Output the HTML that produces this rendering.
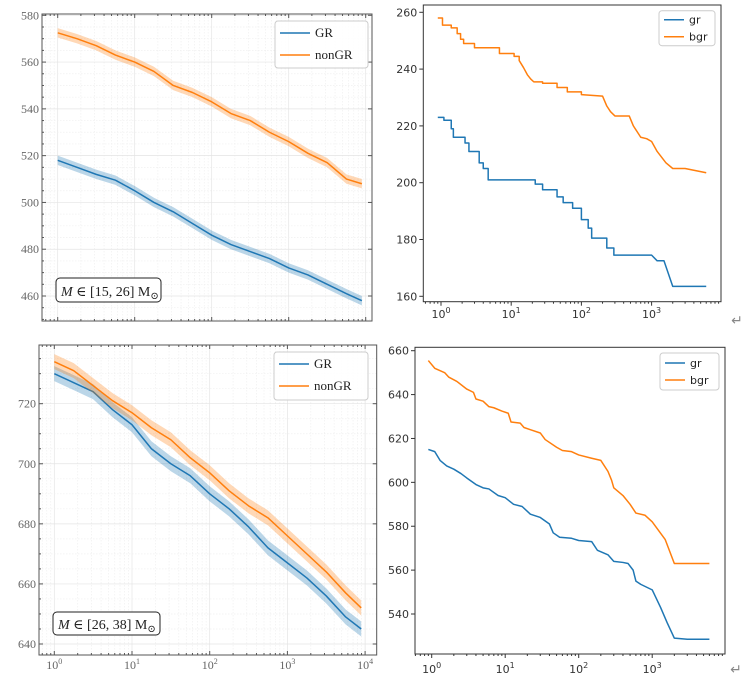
<!DOCTYPE html>
<html><head><meta charset="utf-8">
<style>
html,body{margin:0;padding:0;background:#fff;}
svg{display:block;}
.serif{font-family:"Liberation Serif","DejaVu Serif",serif;}
.sans{font-family:"DejaVu Sans","Liberation Sans",sans-serif;}
</style></head>
<body>
<svg id="fig" width="743" height="684" viewBox="0 0 743 684" xmlns="http://www.w3.org/2000/svg"></svg>
<script>
// ---- Data ----
const aLogX = [0,0.25,0.5,0.75,1,1.25,1.5,1.75,2,2.25,2.5,2.75,3,3.25,3.5,3.75,3.95];
const aGR = [518,515,512,509.5,505,500,496,491,486,482,479,476,472,469,465,461,458];
const aNonGR = [572.5,570,567,563,560,556,550,547,543,538,535,530,526,521,517,510,508];
const aBand = 2;
const aYTicks = [460,480,500,520,540,560,580];
const cLogX = [0,0.25,0.5,0.75,1,1.25,1.5,1.75,2,2.25,2.5,2.75,3,3.25,3.5,3.75,3.95];
const cGR = [730,727,724,718,713,705,700,696,690,685,679,672,667,662,656,649,645];
const cNonGR = [734,731,726,721,717,712,708,702,697,691,686,682,676,670,664,657,652];
const cBand = 2.5;
const cYTicks = [640,660,680,700,720];
const bGrX = [0.9,1.1,1.1,1.4,1.4,1.5,1.5,2.2,2.2,2.5,2.5,3.5,3.5,4,4,4.7,4.7,22,22,28,28,45,45,55,55,75,75,100,100,125,125,140,140,230,230,290,290,1000,1200,1500,2000,6000];
const bGrY = [223,223,222,222,219,219,216,216,214,214,211,211,207,207,205,205,201,201,199.5,199.5,197.5,197.5,195,195,193,193,191,191,187,187,184,184,180.5,180.5,177,177,174.5,174.5,172.5,172.5,163.5,163.5];
const bBgrX = [0.9,1.05,1.05,1.4,1.4,1.7,1.7,1.9,1.9,2.1,2.1,3,3,6.8,6.8,11,11,13,13,15,17,19,21,28,28,45,45,63,63,100,100,200,230,260,300,480,550,700,850,1000,1200,1600,2000,3000,6000];
const bBgrY = [258,258,255.5,255.5,254.5,254.5,252.5,252.5,250.5,250.5,249,249,247.5,247.5,245.5,245.5,244.5,244.5,243,240.5,238,236.5,235.5,235.5,235,235,233.5,233.5,232,232,231,230.5,227,225,223.5,223.5,220,216,215.5,214.5,211,207,205,205,203.5];
const bYTicks = [160,180,200,220,240,260];
const dGrX = [0.9,1.1,1.3,1.6,2,2.5,3,4,5,6,8,10,13,17,22,30,40,45,55,80,100,150,180,250,300,400,470,550,600,700,1000,1300,1600,2000,3000,6000];
const dGrY = [615,614,610,607.5,606,604,602,599,597.5,597,594,593,590,589,585.5,584,581,577,575,574.5,573.5,573,569,567,564,563.5,563,560,555,553.5,551,543,536,529,528.5,528.5];
const dBgrX = [0.9,1.1,1.5,1.7,2.2,3,3.7,4,5,6,7,9,11,12,16,18,22,30,35,50,60,80,100,150,200,250,280,300,400,500,600,800,1000,1500,2000,6000];
const dBgrY = [655.5,652,650,648,646,642.5,641,638,637,634.5,634,632.5,631.5,627.5,627,625,624,622.5,619.5,616,614.5,614,612.5,611,610,605,601,597.5,594,590,586,585,582,574,563,563];
const dYTicks = [540,560,580,600,620,640,660];
const xDecades = [0,1,2,3,4];
const xTickLabelsExp = ["0","1","2","3","4"];

const NS="http://www.w3.org/2000/svg";
const fig=document.getElementById('fig');
const BLUE="#1f77b4", ORANGE="#ff7f0e";
function mk(tag,attrs,parent){const e=document.createElementNS(NS,tag);for(const k in attrs)e.setAttribute(k,attrs[k]);(parent||fig).appendChild(e);return e;}

function makeAxes(p){
  const fx=l=>p.xpx0+l*p.dec;
  const fy=v=>p.ypxA+(v-p.yvA)*(p.ypxB-p.ypxA)/(p.yvB-p.yvA);
  return {fx,fy};
}

function drawPanel(p){
  const g=mk('g',{});
  
  
  const {fx,fy}=makeAxes(p);
  const b=p.box;
  const cpId='clip-'+p.name;
  const cp=mk('clipPath',{id:cpId},g);
  mk('rect',{x:b.l,y:b.t,width:b.r-b.l,height:b.b-b.t},cp);
  const inner=mk('g',{'clip-path':'url(#'+cpId+')'},g);
  if(p.latex){
    for(let d=-1;d<=4;d++){
      for(let m=1;m<10;m++){
        const X=fx(d+Math.log10(m));
        if(X<b.l||X>b.r)continue;
        const l=mk('line',{x1:X,x2:X,y1:b.t,y2:b.b,stroke:m==1?'#e4e4e4':'#f0f0f0','stroke-width':0.7,'stroke-dasharray':m==1?'':'1.5,1.5'},inner);
        
        
      }
    }
    for(let v=p.yTicks[0]-20;v<=p.yTicks[p.yTicks.length-1]+20;v+=5){
      const Y=fy(v);if(Y<b.t||Y>b.b)continue;
      const l=mk('line',{x1:b.l,x2:b.r,y1:Y,y2:Y,stroke:v%20==0?'#e4e4e4':'#f0f0f0','stroke-width':0.7,'stroke-dasharray':v%20==0?'':'1.5,1.5'},inner);
      
      
    }
  }
  p.series.forEach(s=>{
    if(s.band){
      let d='';
      s.xs.forEach((x,i)=>{d+=(i?'L':'M')+fx(s.log?x:Math.log10(x))+','+fy(s.ys[i]+s.band);});
      for(let i=s.xs.length-1;i>=0;i--){const x=s.xs[i];d+='L'+fx(s.log?x:Math.log10(x))+','+fy(s.ys[i]-s.band);}
      const band=mk('path',{d:d+'Z',fill:s.color,'fill-opacity':0.3,stroke:'none'},inner);
      
      
    }
    const pts=s.xs.map((x,i)=>fx(s.log?x:Math.log10(x))+','+fy(s.ys[i])).join(' ');
    const ln=mk('polyline',{points:pts,fill:'none',stroke:s.color,'stroke-width':1.5,'stroke-linejoin':'round'},inner);
    
    
  });
  const fr=mk('rect',{x:b.l,y:b.t,width:b.r-b.l,height:b.b-b.t,fill:'none',stroke:p.latex?'#555':'#333','stroke-width':1},g);
  
  
  const font=p.latex?'serif':'sans';
  const tcol=p.latex?'#666':'#333';
  p.yTicks.forEach(v=>{
    const Y=fy(v);
    if(p.latex){
      mk('line',{x1:b.l,x2:b.l+4,y1:Y,y2:Y,stroke:'#555'},g);
      mk('line',{x1:b.r,x2:b.r-4,y1:Y,y2:Y,stroke:'#555'},g);
    } else mk('line',{x1:b.l,x2:b.l-4,y1:Y,y2:Y,stroke:'#333'},g);
    const t=mk('text',{x:b.l-(p.latex?3:6),y:Y+4,'text-anchor':'end','font-size':p.latex?12:11,fill:tcol,class:font},g);
    t.textContent=v;
    
    
  });
  if(p.latex){
    for(let v=p.yTicks[0]-20;v<=p.yTicks[p.yTicks.length-1]+20;v+=5){
      if(v%20==0)continue;const Y=fy(v);if(Y<b.t||Y>b.b)continue;
      mk('line',{x1:b.l,x2:b.l+2,y1:Y,y2:Y,stroke:'#555'},g);
    }
  }
  for(let d=-1;d<=4;d++){
    for(let m=1;m<10;m++){
      const X=fx(d+Math.log10(m));
      if(X<b.l||X>b.r)continue;
      const len=m==1?4:2;
      if(p.latex){
        mk('line',{x1:X,x2:X,y1:b.b,y2:b.b-len,stroke:'#555'},g);
        mk('line',{x1:X,x2:X,y1:b.t,y2:b.t+len,stroke:'#555'},g);
      } else mk('line',{x1:X,x2:X,y1:b.b,y2:b.b+len,stroke:'#333'},g);
    }
  }
  if(p.xLabels){
    xDecades.forEach((d,i)=>{
      const X=fx(d);if(X<b.l-2||X>b.r-1)return;
      const t=mk('text',{x:X,y:p.xLabelY,'text-anchor':'middle','font-size':p.latex?12:11,fill:tcol,class:font},g);
      t.textContent='10';
      const ts=mk('tspan',{dy:-5,'font-size':8},t);
      ts.textContent=xTickLabelsExp[i];
      
      
    });
  }
  const L=p.legend;
  const lg=mk('g',{},g);
  
  
  mk('rect',{x:L.l,y:L.t,width:L.w,height:L.h,rx:3,fill:'#fff','fill-opacity':0.85,stroke:'#ccc'},lg);
  L.items.forEach((it,i)=>{
    const Y=L.t+L.y0+i*L.dy;
    mk('line',{x1:L.l+5,x2:L.l+5+L.lw,y1:Y,y2:Y,stroke:it.c,'stroke-width':1.5},lg);
    const t=mk('text',{x:L.l+10+L.lw,y:Y+4,'font-size':p.latex?13:11,fill:'#222',class:font},lg);
    t.textContent=it.t;
    
    
  });
  if(p.note){
    const N=p.note;
    const ng=mk('g',{},g);
    
    
    mk('rect',{x:N.l,y:N.t,width:N.w,height:N.h,rx:4,fill:'#fff',stroke:'#222','stroke-width':1},ng);
    const t=mk('text',{x:N.l+5,y:N.t+N.h-6,'font-size':14,fill:'#222',class:'serif'},ng);
    const i1=mk('tspan',{'font-style':'italic'},t);i1.textContent='M';
    const i2=mk('tspan',{},t);i2.textContent=' ∈ '+N.txt+' M';
    const i3=mk('tspan',{'font-size':10,dy:3},t);i3.textContent='⊙';
  }
  if(p.arrow){
    const t=mk('text',{x:p.arrow[0],y:p.arrow[1],'font-size':14,fill:'#888',class:'sans','text-anchor':'middle'},g);
    t.textContent='↵';
    
    
  }
}

drawPanel({name:'panel-top-left',latex:true,xpx0:57.7,dec:77,yvA:580,ypxA:15.3,yvB:460,ypxB:296,
  box:{l:42,t:14,r:372,b:321},yTicks:aYTicks,xLabels:false,
  series:[{name:'gr',xs:aLogX,ys:aGR,log:true,band:aBand,color:BLUE},{name:'nongr',xs:aLogX,ys:aNonGR,log:true,band:aBand,color:ORANGE}],
  legend:{l:275,t:21,w:93,h:47,y0:12,dy:22,lw:30,items:[{t:'GR',c:BLUE},{t:'nonGR',c:ORANGE}]},
  note:{l:56,t:278,w:105,h:24,txt:'[15, 26]'}});
drawPanel({name:'panel-bottom-left',latex:true,xpx0:54.3,dec:77.7,yvA:720,ypxA:403.7,yvB:640,ypxB:644,
  box:{l:39,t:345,r:376.7,b:655},yTicks:cYTicks,xLabels:true,xLabelY:669,
  series:[{name:'gr',xs:cLogX,ys:cGR,log:true,band:cBand,color:BLUE},{name:'nongr',xs:cLogX,ys:cNonGR,log:true,band:cBand,color:ORANGE}],
  legend:{l:274,t:352,w:94,h:48,y0:12,dy:22,lw:30,items:[{t:'GR',c:BLUE},{t:'nonGR',c:ORANGE}]},
  note:{l:53,t:612,w:107,h:23,txt:'[26, 38]'}});
drawPanel({name:'panel-top-right',latex:false,xpx0:441,dec:70.2,yvA:260,ypxA:12.3,yvB:160,ypxB:296.3,
  box:{l:423.3,t:5,r:721,b:301.7},yTicks:bYTicks,xLabels:true,xLabelY:318,
  series:[{name:'gr',xs:bGrX,ys:bGrY,color:BLUE},{name:'bgr',xs:bBgrX,ys:bBgrY,color:ORANGE}],
  legend:{l:659,t:10.7,w:56,h:35,y0:9,dy:17,lw:20,items:[{t:'gr',c:BLUE},{t:'bgr',c:ORANGE}]},
  arrow:[737,325]});
drawPanel({name:'panel-bottom-right',latex:false,xpx0:431.7,dec:73.5,yvA:660,ypxA:350.7,yvB:540,ypxB:614,
  box:{l:415,t:347.3,r:725,b:654},yTicks:dYTicks,xLabels:true,xLabelY:673,
  series:[{name:'gr',xs:dGrX,ys:dGrY,color:BLUE},{name:'bgr',xs:dBgrX,ys:dBgrY,color:ORANGE}],
  legend:{l:660,t:353,w:59,h:37,y0:10,dy:17,lw:20,items:[{t:'gr',c:BLUE},{t:'bgr',c:ORANGE}]},
  arrow:[736,674]});
</script>
</body></html>
